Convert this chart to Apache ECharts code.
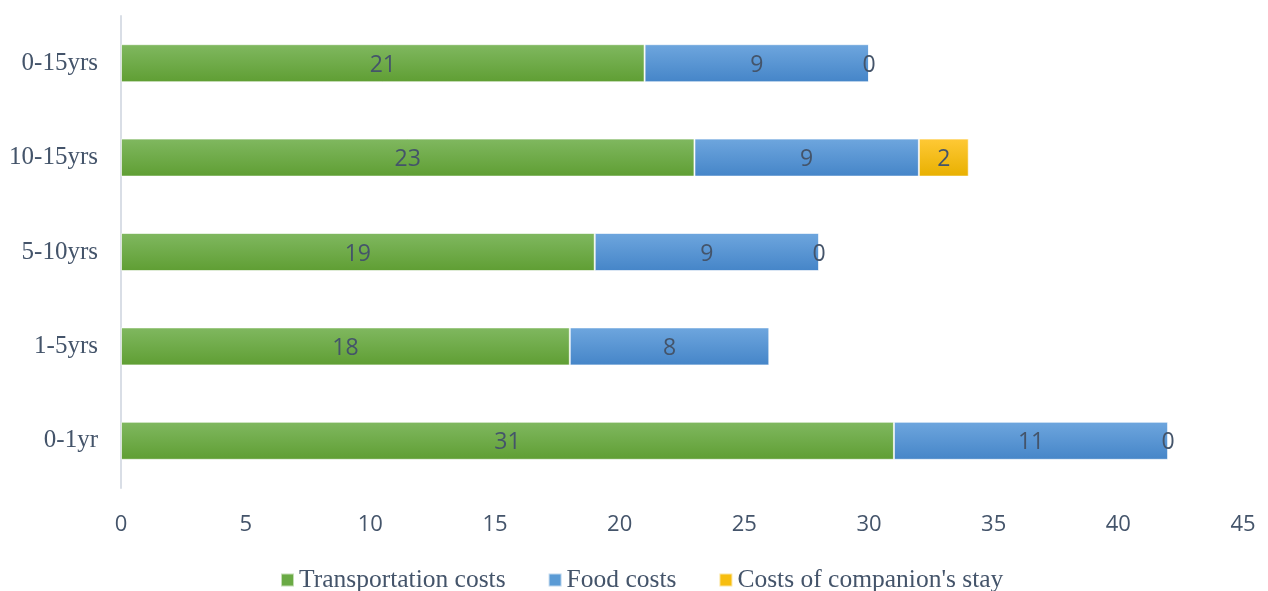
<!DOCTYPE html>
<html>
<head>
<meta charset="utf-8">
<script src="https://cdn.jsdelivr.net/npm/echarts@6/dist/echarts.min.js"></script>
<style>
  html, body { margin: 0; padding: 0; background: #fff; }
  #chart { width: 1268px; height: 591px; }
</style>
</head>
<body>
<div id="chart"></div>
<script>
// categories, bottom to top
const categories = ["0-1yr", "1-5yrs", "5-10yrs", "10-15yrs", "0-15yrs"];
const transport = [31, 18, 19, 23, 21];
const food = [11, 8, 9, 9, 9];
const companion = [0, null, 0, 2, 0];
const seriesNames = ["Transportation costs", "Food costs", "Costs of companion's stay"];

const textColor = "#44546a";

// vertical gradient like the office fill
function grad(top, bottom) {
  return new echarts.graphic.LinearGradient(0, 0, 0, 1, [
    { offset: 0, color: top },
    { offset: 1, color: bottom },
  ]);
}

const chart = echarts.init(document.getElementById("chart"));

const labelStyle = {
  show: true,
  position: "inside",
  offset: [0, 2],
  color: textColor,
  fontSize: 23,
  fontFamily: "Open Sans",
};

function makeSeries(name, data, top, bottom) {
  return {
    name: name,
    type: "bar",
    stack: "total",
    data: data,
    barWidth: 38,
    itemStyle: {
      color: grad(top, bottom),
      borderColor: "rgba(255,255,255,0.6)",
      borderWidth: 1,
    },
    label: labelStyle,
  };
}

const option = {
  animation: false,
  grid: {
    left: 121,
    right: 25,
    top: 16,
    bottom: 103,
  },
  legend: {
    top: 562,
    left: 275,
    itemWidth: 13,
    itemHeight: 13,
    itemGap: 42,
    icon: "rect",
    textStyle: {
      color: textColor,
      fontSize: 25.5,
      fontFamily: "Liberation Serif",
    },
    data: [
      { name: seriesNames[0], itemStyle: { color: "#6aaa44" } },
      { name: seriesNames[1], itemStyle: { color: "#5b9bd5" } },
      { name: seriesNames[2], itemStyle: { color: "#f7be0f" } },
    ],
  },
  xAxis: {
    type: "value",
    min: 0,
    max: 45,
    interval: 5,
    axisLine: { show: false },
    axisTick: { show: false },
    splitLine: { show: false },
    axisLabel: {
      color: textColor,
      fontSize: 22,
      fontFamily: "Open Sans",
      margin: 26,
    },
  },
  yAxis: {
    type: "category",
    data: categories,
    axisLine: { show: true, lineStyle: { color: "#d9dee6", width: 2 } },
    axisTick: { show: false },
    axisLabel: {
      color: textColor,
      fontSize: 25,
      fontFamily: "Liberation Serif",
      margin: 23,
    },
  },
  series: [
    makeSeries(seriesNames[0], transport, "#80b860", "#5f9e33"),
    makeSeries(seriesNames[1], food, "#6ea6de", "#4585c8"),
    makeSeries(seriesNames[2], companion, "#ffc936", "#e8b000"),
  ],
};

chart.setOption(option);
</script>
</body>
</html>
